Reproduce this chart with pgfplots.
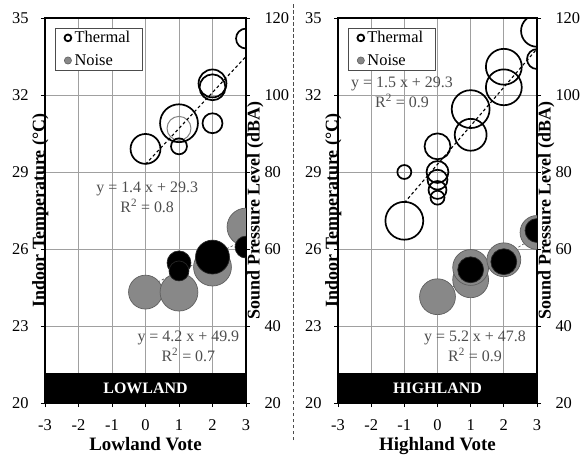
\documentclass[border=0pt]{standalone}
\usepackage{pgfplots}
\usepackage{pgfplotstable}
\pgfplotsset{compat=1.18}
\usepackage{fontspec}
\setmainfont{Liberation Serif}

\definecolor{noisegray}{HTML}{888888}
\definecolor{gridgray}{HTML}{A0A0A0}
\definecolor{eqgray}{HTML}{4D4D4D}

% Bubble tables: vote, value, bubble radius (pt)
\pgfplotstableread{
x y r
0 29.9 15
1 30.9 19
1 30.0 8
2 32.45 14
2 32.3 13
2 30.9 10
3 34.2 10
}\lowThermal
\pgfplotstableread{
x y r
1 30.7 12
}\lowThermalFaint
\pgfplotstableread{
x y r
0 48.8 17
1 48.8 19
2 55.3 19
3 65.7 19
}\lowNoiseGray
\pgfplotstableread{
x y r
1 56.4 12
1 54.3 10
2 57.9 17
3 60.5 11
}\lowNoiseDark
\pgfplotstableread{
x y r
-1 29.0 7
-1 27.1 19
0 30.0 13
0 29.0 11
0 28.7 10
0 28.3 9
0 28.0 7
1 31.45 19
1 30.45 16
2 33.1 18
2 32.3 18
3 34.5 16
3 33.4 10
}\highThermal
\pgfplotstableread{
x y r
0 47.6 18
1 52.0 18
1 55.2 18
2 57.2 17
3 64.3 17
}\highNoiseGray
\pgfplotstableread{
x y r
1 54.6 13
2 56.7 13
3 64.8 12
}\highNoiseDark

\tikzset{
  eq/.style={text=eqgray, font=\fontsize{16}{20}\selectfont, align=center, inner sep=0pt},
  band/.style={text=white, font=\bfseries\fontsize{16}{18}\selectfont},
}

\pgfplotsset{
  bubble/.style={scatter, only marks, forget plot,
    scatter/use mapped color={#1},
    visualization depends on={\thisrow{r} \as \rad},
    scatter/@pre marker code/.append style={/tikz/mark size=\rad}},
  common/.style={
    scale only axis, height=385bp,
    xmin=-3, xmax=3,
    clip marker paths=true,
    /pgf/number format/assume math mode=true,
    ticklabel style={font=\fontsize{16.5}{18}\selectfont},
    tick align=outside, major tick length=4bp,
    tick style={black, line width=0.8bp},
    axis line style={line width=1.3bp},
  },
  tempaxis/.style={common,
    ymin=20, ymax=35,
    xtick={-3,...,3}, ytick={20,23,...,35},
    grid=major, major grid style={gridgray, line width=0.7bp},
    tick pos=left,
    yticklabel style={xshift=-9bp},
    xticklabel style={yshift=-9bp},
    xlabel style={font=\bfseries\fontsize{19}{21}\selectfont,
      at={(axis description cs:0.5,0)}, anchor=north, yshift=-31bp},
    ylabel style={font=\bfseries\fontsize{18}{20}\selectfont,
      at={(axis description cs:-0.002,0.5)}, anchor=base},
    legend style={at={(0.05,0.975)}, anchor=north west, draw=black!70,
      line width=0.6bp, font=\fontsize{16.5}{18}\selectfont,
      inner xsep=9bp, inner ysep=2.5bp, row sep=8bp,
      nodes={inner xsep=3bp, inner ysep=1bp}},
    legend cell align=left,
  },
  splaxis/.style={common,
    ymin=20, ymax=120, ytick={20,40,...,120},
    axis x line=none, axis y line*=right,
    yticklabel style={xshift=11bp},
    ylabel style={font=\bfseries\fontsize{18}{20}\selectfont,
      at={(axis description cs:1,0.5)}, anchor=north, inner sep=1bp},
  },
  thermal/.style={bubble={draw=black, fill=none}, mark=o, line width=1.7bp},
  faint/.style={bubble={draw=gray, fill=none}, mark=o, line width=1bp},
  noisegrey/.style={bubble={draw=noisegray!70!black, fill=noisegray}, mark=*, line width=0.7bp},
  noisedark/.style={bubble={draw=black!85, fill=black}, mark=*, line width=0.7bp},
  trend/.style={black, line width=1.1bp, dash pattern=on 3bp off 2.5bp, forget plot},
  noisetrend/.style={noisegray!60!black, line width=0.6bp, dash pattern=on 2.5bp off 2bp, forget plot},
}

\begin{document}
\begin{tikzpicture}
% ---------------- Lowland ----------------
\begin{axis}[tempaxis, width=201bp,
  xlabel={Lowland Vote}, ylabel={Indoor Temperature (°C)}]
  \addlegendimage{only marks, mark=o, mark size=3.4pt, line width=1.8bp, black}
  \addlegendentry{Thermal}
  \addlegendimage{only marks, mark=*, mark size=3.6pt, draw=noisegray!70!black, fill=noisegray}
  \addlegendentry{Noise}
  \addplot[faint] table[x=x, y=y] {\lowThermalFaint};
  \addplot[thermal] table[x=x, y=y] {\lowThermal};
  \addplot[trend] coordinates {(0,29.3) (3,33.5)};
  \node[eq] at (axis cs:0.05,28.0) {y = 1.4 x + 29.3\\R\textsuperscript{2} = 0.8};
  \node[eq] at (axis cs:1.28,22.2) {y = 4.2 x + 49.9\\R\textsuperscript{2} = 0.7};
  \fill[black] (axis cs:-3,20) rectangle (axis cs:3,21.17);
  \node[band] at (axis cs:0,20.59) {LOWLAND};
\end{axis}
\begin{axis}[splaxis, width=201bp, ylabel={Sound Pressure Level (dBA)}]
  \addplot[noisetrend] coordinates {(0,49.9) (3,62.5)};
  \addplot[noisegrey] table[x=x, y=y] {\lowNoiseGray};
  \addplot[noisedark] table[x=x, y=y] {\lowNoiseDark};
\end{axis}

% ---------------- Highland ----------------
\begin{axis}[tempaxis, width=199bp, at={(293bp,0)}, anchor=south west,
  xlabel={Highland Vote}, ylabel={Indoor Temperature (°C)}]
  \addlegendimage{only marks, mark=o, mark size=3.4pt, line width=1.8bp, black}
  \addlegendentry{Thermal}
  \addlegendimage{only marks, mark=*, mark size=3.6pt, draw=noisegray!70!black, fill=noisegray}
  \addlegendentry{Noise}
  \addplot[thermal] table[x=x, y=y] {\highThermal};
  \addplot[trend] coordinates {(-1,27.8) (3,33.8)};
  \node[eq] at (axis cs:-1.07,32.1) {y = 1.5 x + 29.3\\R\textsuperscript{2} = 0.9};
  \node[eq] at (axis cs:1.13,22.2) {y = 5.2 x + 47.8\\R\textsuperscript{2} = 0.9};
  \fill[black] (axis cs:-3,20) rectangle (axis cs:3,21.17);
  \node[band] at (axis cs:0,20.59) {HIGHLAND};
\end{axis}
\begin{axis}[splaxis, width=199bp, at={(293bp,0)}, anchor=south west,
  ylabel={Sound Pressure Level (dBA)}]
  \addplot[noisetrend] coordinates {(0,47.8) (3,63.4)};
  \addplot[noisegrey] table[x=x, y=y] {\highNoiseGray};
  \addplot[noisedark] table[x=x, y=y] {\highNoiseDark};
\end{axis}

% separator between the two regions
\draw[black!70, line width=1.8bp, dash pattern=on 3.5bp off 2.5bp]
  (248.5bp,-37bp) -- (248.5bp,399bp);

\pgfresetboundingbox
\useasboundingbox (-45bp,-54bp) rectangle (535bp,403bp);
\end{tikzpicture}
\end{document}
